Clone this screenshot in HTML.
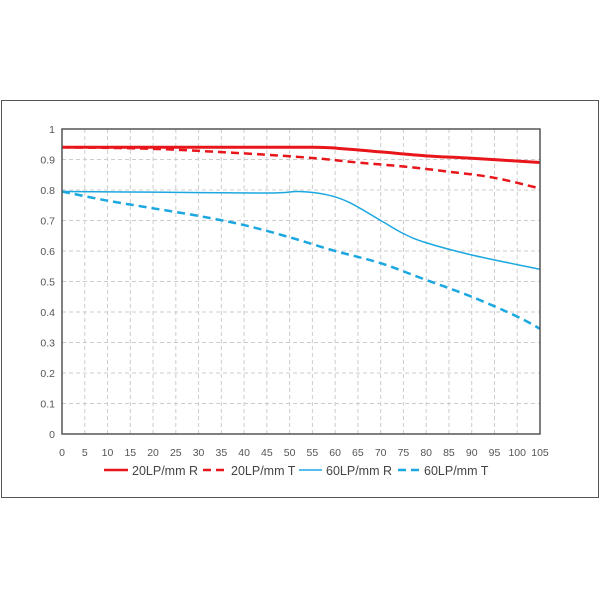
<!DOCTYPE html>
<html><head><meta charset="utf-8"><style>
body{margin:0;background:#fff;}
svg{display:block;font-family:"Liberation Sans",sans-serif;}
</style></head><body>
<svg id="s" width="600" height="600" xmlns="http://www.w3.org/2000/svg">
<rect x="1.5" y="100.5" width="597" height="397" fill="#fff" stroke="#555" stroke-width="1"/>
<g id="grid"></g>
<g id="curves"></g>
<rect x="62" y="129" width="478" height="305" fill="none" stroke="#555" stroke-width="1.5"/>
<g id="lab" font-size="10.5" fill="#555"></g>
<g font-size="12.5" fill="#444">
<line x1="104" y1="470" x2="128" y2="470" stroke="#e8161b" stroke-width="2.5"/>
<text x="132" y="475">20LP/mm R</text>
<line x1="203" y1="470" x2="227" y2="470" stroke="#e8161b" stroke-width="2.5" stroke-dasharray="8,5"/>
<text x="231" y="475">20LP/mm T</text>
<line x1="299" y1="470" x2="322" y2="470" stroke="#1ba7e0" stroke-width="1.5"/>
<text x="326" y="475">60LP/mm R</text>
<line x1="398" y1="470" x2="421" y2="470" stroke="#1ba7e0" stroke-width="2.5" stroke-dasharray="8,5"/>
<text x="424" y="475">60LP/mm T</text>
</g>
</svg>
<script>
var NS="http://www.w3.org/2000/svg";
function X(v){return 62+v*478/105;}
function Y(m){return 434-m*305;}
function el(p,t,a){var e=document.createElementNS(NS,t);for(var k in a)e.setAttribute(k,a[k]);document.getElementById(p).appendChild(e);return e;}
for(var v=5;v<105;v+=5)el("grid","line",{x1:X(v),x2:X(v),y1:129,y2:434,stroke:"#ccc","stroke-dasharray":"4,3"});
for(var i=1;i<10;i++)el("grid","line",{x1:62,x2:540,y1:Y(i/10),y2:Y(i/10),stroke:"#ccc","stroke-dasharray":"4,3"});
for(var v=0;v<=105;v+=5){var t=el("lab","text",{x:X(v),y:456,"text-anchor":"middle"});t.textContent=v;}
for(var i=0;i<=10;i++){var t=el("lab","text",{x:55,y:Y(i/10)+4,"text-anchor":"end"});t.textContent=i==10?"1":i==0?"0":(i/10).toFixed(1);}
function curve(pts,col,w,dash){
 var d="M"+X(pts[0][0])+","+Y(pts[0][1]);
 for(var i=0;i<pts.length-1;i++){
  var p0=pts[Math.max(i-1,0)],p1=pts[i],p2=pts[i+1],p3=pts[Math.min(i+2,pts.length-1)];
  var c1x=X(p1[0])+(X(p2[0])-X(p0[0]))/6,c1y=Y(p1[1])+(Y(p2[1])-Y(p0[1]))/6;
  var c2x=X(p2[0])-(X(p3[0])-X(p1[0]))/6,c2y=Y(p2[1])-(Y(p3[1])-Y(p1[1]))/6;
  d+=" C"+c1x+","+c1y+" "+c2x+","+c2y+" "+X(p2[0])+","+Y(p2[1]);
 }
 var a={d:d,fill:"none",stroke:col,"stroke-width":w};if(dash)a["stroke-dasharray"]=dash;el("curves","path",a);
}
curve([[0,0.94],[30,0.94],[55,0.94],[62,0.935],[70,0.925],[80,0.912],[90,0.904],[105,0.89]],"#e8161b",3);
curve([[0,0.94],[20,0.935],[40,0.92],[55,0.905],[65,0.89],[75,0.877],[85,0.86],[95,0.84],[105,0.805]],"#e8161b",2.5,"8,5");
curve([[0,0.795],[20,0.793],[45,0.79],[52,0.795],[58,0.785],[63,0.76],[70,0.70],[75,0.657],[80,0.627],[90,0.587],[105,0.54]],"#1ba7e0",1.5);
curve([[0,0.795],[10,0.765],[20,0.74],[30,0.715],[40,0.685],[50,0.645],[60,0.6],[70,0.56],[80,0.505],[90,0.45],[100,0.385],[105,0.345]],"#1ba7e0",2.5,"8,5");
</script>
</body></html>
